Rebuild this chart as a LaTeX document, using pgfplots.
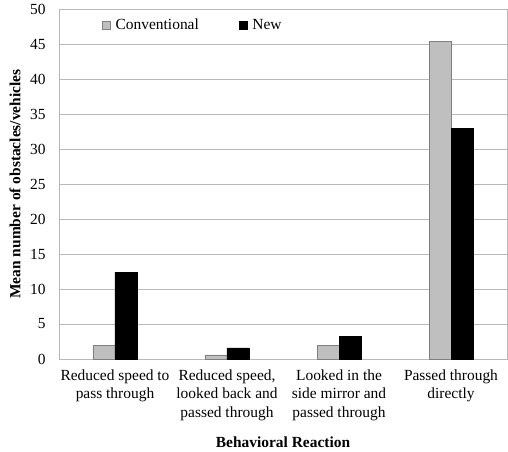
\documentclass[border=0pt]{standalone}
\usepackage{pgfplots}
\pgfplotsset{compat=1.18}
\usepackage{fontspec}
\setmainfont{Liberation Serif}
\definecolor{convgray}{RGB}{191,191,191}
\definecolor{convedge}{RGB}{128,128,128}
\definecolor{gridgray}{RGB}{185,185,185}
\begin{document}
\begin{tikzpicture}
\path[use as bounding box] (-59bp,-93bp) rectangle (449bp,359bp);
\begin{axis}[
  scale only axis, width=448bp, height=350bp,
  ybar=0pt, bar width=22bp,
  xmin=-0.5, xmax=3.5, ymin=0, ymax=50,
  xtick={0,1,2,3},
  xticklabels={{Reduced speed to\\pass through},{Reduced speed,\\looked back and\\passed through},{Looked in the\\side mirror and\\passed through},{Passed through\\directly}},
  xticklabel style={align=center, font=\fontsize{15.5}{18.6}\selectfont, yshift=-7bp},
  ytick={0,5,...,50},
  yticklabel style={font=\fontsize{15.5}{17.8}\selectfont, xshift=-10bp},
  /pgf/number format/assume math mode=true,
  ymajorgrids, grid style={gridgray, line width=0.8bp},
  axis line style={gridgray, line width=0.8bp},
  major tick length=0pt,
  xlabel={Behavioral Reaction},
  ylabel={Mean number of obstacles/vehicles},
  xlabel style={font=\fontsize{15.5}{17.8}\selectfont\bfseries, at={(axis description cs:0.5,-0.237)}, anchor=center},
  ylabel style={font=\fontsize{15.5}{17.8}\selectfont\bfseries, at={(axis description cs:-0.098,0.5)}, anchor=center},
  legend columns=2,
  legend style={at={(0.089,0.954)}, anchor=west, draw=none, fill=none,
    font=\fontsize{15.5}{17.8}\selectfont,
    /tikz/every odd column/.append style={column sep=3bp},
    /tikz/every even column/.append style={column sep=38bp}},
]
\addplot[fill=convgray, draw=convedge, line width=0.6bp,
  legend image code/.code={\draw[fill=convgray, draw=convedge, line width=0.6bp] (0bp,-4bp) rectangle (8bp,4bp);}]
  coordinates {(0,2.0) (1,0.6) (2,2.0) (3,45.4)};
\addplot[fill=black, draw=black, line width=0.6bp,
  legend image code/.code={\draw[fill=black, draw=black] (0bp,-4bp) rectangle (8bp,4bp);}]
  coordinates {(0,12.4) (1,1.6) (2,3.2) (3,32.9)};
\legend{Conventional, New}
\end{axis}
\end{tikzpicture}
\end{document}
